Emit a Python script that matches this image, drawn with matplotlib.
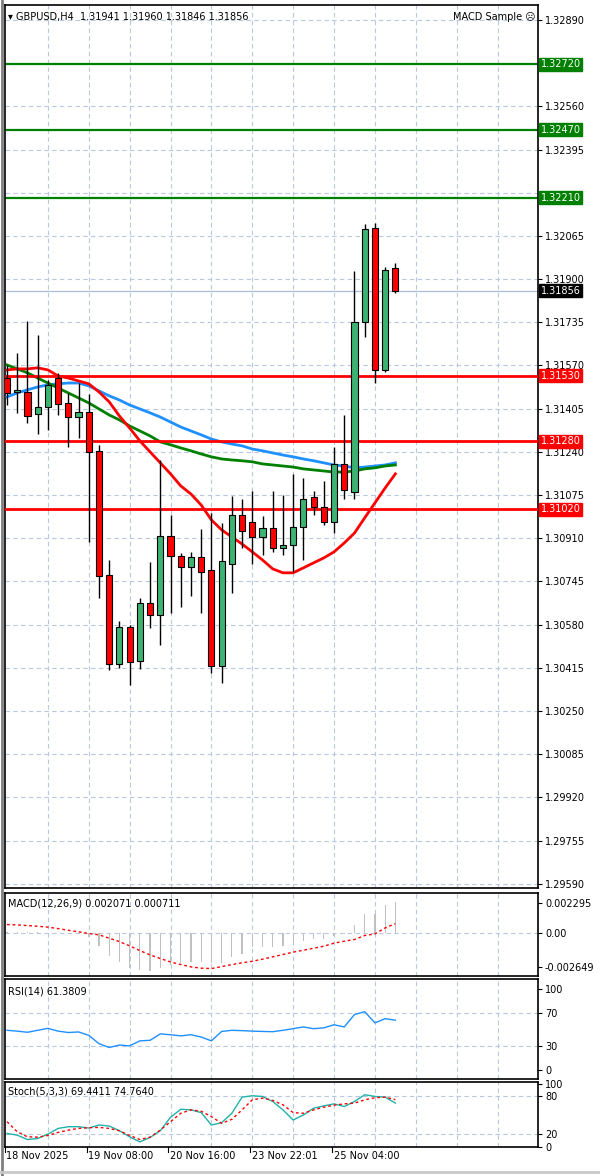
import matplotlib
matplotlib.use("Agg")
import matplotlib.pyplot as plt
from matplotlib.patches import Rectangle
import numpy as np

opens = [1.31522, 1.31469, 1.31469, 1.31385, 1.31412, 1.31522, 1.31427, 1.31373, 1.31393, 1.31244,
         1.30770, 1.30430, 1.30571, 1.30441, 1.30663, 1.30617, 1.30919, 1.30843, 1.30800, 1.30839,
         1.30789, 1.30422, 1.30812, 1.30999, 1.30972, 1.30915, 1.30949, 1.30873, 1.30885, 1.30953,
         1.31068, 1.31030, 1.30972, 1.31194, 1.31087, 1.31736, 1.32095, 1.31553, 1.31941]
highs = [1.31572, 1.31618, 1.31740, 1.31687, 1.31515, 1.31542, 1.31465, 1.31503, 1.31461, 1.31267,
         1.30827, 1.30594, 1.30579, 1.30682, 1.30820, 1.31209, 1.30999, 1.30854, 1.30858, 1.30946,
         1.31007, 1.30969, 1.31072, 1.31060, 1.31091, 1.30995, 1.31091, 1.31076, 1.31156, 1.31140,
         1.31091, 1.31129, 1.31259, 1.31381, 1.31931, 1.32111, 1.32115, 1.31946, 1.31960]
lows = [1.31419, 1.31389, 1.31351, 1.31309, 1.31324, 1.31381, 1.31259, 1.31293, 1.30896, 1.30682,
        1.30407, 1.30415, 1.30350, 1.30411, 1.30567, 1.30503, 1.30625, 1.30648, 1.30690, 1.30625,
        1.30396, 1.30357, 1.30701, 1.30873, 1.30812, 1.30846, 1.30858, 1.30846, 1.30781, 1.30827,
        1.30999, 1.30961, 1.30930, 1.31060, 1.31060, 1.31679, 1.31503, 1.31545, 1.31846]
closes = [1.31465, 1.31477, 1.31377, 1.31412, 1.31496, 1.31423, 1.31373, 1.31393, 1.31240, 1.30766,
          1.30430, 1.30571, 1.30438, 1.30663, 1.30617, 1.30919, 1.30843, 1.30800, 1.30839, 1.30781,
          1.30422, 1.30823, 1.30999, 1.30938, 1.30915, 1.30949, 1.30873, 1.30885, 1.30953, 1.31060,
          1.31030, 1.30972, 1.31194, 1.31095, 1.31736, 1.32092, 1.31553, 1.31935, 1.31856]

ma_blue = [1.31450, 1.31465, 1.31477, 1.31488, 1.31496, 1.31500, 1.31503, 1.31503, 1.31492, 1.31473,
           1.31454, 1.31438, 1.31419, 1.31404, 1.31389, 1.31373, 1.31354, 1.31335, 1.31320, 1.31305,
           1.31289, 1.31278, 1.31270, 1.31263, 1.31251, 1.31244, 1.31236, 1.31228, 1.31221, 1.31213,
           1.31206, 1.31198, 1.31190, 1.31186, 1.31179, 1.31182, 1.31186, 1.31190, 1.31198]
ma_green = [1.31572, 1.31557, 1.31542, 1.31522, 1.31503, 1.31484, 1.31465, 1.31446, 1.31427, 1.31404,
            1.31381, 1.31362, 1.31339, 1.31320, 1.31301, 1.31278, 1.31267, 1.31255, 1.31244, 1.31232,
            1.31221, 1.31213, 1.31209, 1.31206, 1.31202, 1.31194, 1.31190, 1.31186, 1.31182, 1.31175,
            1.31171, 1.31167, 1.31163, 1.31163, 1.31167, 1.31175, 1.31179, 1.31186, 1.31190]
ma_red = [1.31553, 1.31557, 1.31557, 1.31561, 1.31553, 1.31530, 1.31522, 1.31511, 1.31500, 1.31469,
          1.31431, 1.31377, 1.31331, 1.31282, 1.31240, 1.31198, 1.31156, 1.31110, 1.31079, 1.31037,
          1.30980, 1.30942, 1.30915, 1.30888, 1.30858, 1.30827, 1.30793, 1.30778, 1.30778, 1.30797,
          1.30816, 1.30835, 1.30858, 1.30892, 1.30930, 1.30988, 1.31045, 1.31102, 1.31156]

green_levels = [1.32720, 1.32470, 1.32210]
red_levels = [1.31530, 1.31280, 1.31020]
last_price = 1.31856

price_ticks = [1.32890, 1.32560, 1.32395, 1.32065, 1.31900, 1.31735, 1.31570, 1.31405, 1.31240,
               1.31075, 1.30910, 1.30745, 1.30580, 1.30415, 1.30250, 1.30085, 1.29920, 1.29755, 1.29590]
grid_levels = [1.32890, 1.32725, 1.32560, 1.32395, 1.32230, 1.32065, 1.31900, 1.31735, 1.31570,
               1.31405, 1.31240, 1.31075, 1.30910, 1.30745, 1.30580, 1.30415, 1.30250, 1.30085,
               1.29920, 1.29755, 1.29590]

macd_hist = [0.00004, 0.00004, 0.00003, 0.00003, 0.00002, 0.00001, 0.0, -0.00005, -0.00030, -0.00098,
             -0.00179, -0.00221, -0.00270, -0.00282, -0.00294, -0.00270, -0.00245, -0.00233, -0.00221, -0.00221,
             -0.00233, -0.00228, -0.00184, -0.00159, -0.00110, -0.00110, -0.00110, -0.00098, -0.00086, -0.00066,
             -0.00049, -0.00049, -0.00025, -0.00012, 0.00061, 0.00147, 0.00147, 0.00213, 0.00240]
macd_signal = [0.00064, 0.00061, 0.00056, 0.00051, 0.00044, 0.00033, 0.00020, 0.00008, -0.00005, -0.00015,
               -0.00041, -0.00067, -0.00100, -0.00136, -0.00169, -0.00197, -0.00223, -0.00243, -0.00261, -0.00271,
               -0.00274, -0.00259, -0.00243, -0.00230, -0.00218, -0.00202, -0.00184, -0.00166, -0.00148, -0.00133,
               -0.00118, -0.00102, -0.00079, -0.00064, -0.00051, -0.00020, -0.00008, 0.00038, 0.00071]

rsi = [49.0, 48.0, 46.6, 49.0, 51.4, 48.0, 46.3, 47.0, 42.9, 32.7,
       28.0, 31.0, 30.0, 36.1, 36.8, 44.6, 43.6, 42.2, 43.6, 40.8,
       36.1, 47.6, 49.0, 48.6, 48.0, 47.6, 47.3, 49.0, 51.0, 53.1,
       51.0, 52.0, 55.8, 53.1, 68.3, 71.7, 58.1, 63.2, 61.4]

stoch_main = [21.1, 18.4, 11.4, 13.0, 20.0, 29.1, 31.8, 31.8, 29.7, 34.5,
              32.9, 25.4, 15.7, 7.7, 14.7, 25.4, 46.8, 59.6, 58.6, 54.3,
              34.5, 38.2, 53.2, 78.9, 81.1, 80.0, 72.0, 58.6, 42.5, 50.5,
              61.3, 65.0, 68.2, 63.9, 72.0, 82.7, 80.0, 78.9, 69.4]
stoch_signal = [39.8, 23.8, 15.7, 15.2, 17.9, 22.7, 26.4, 29.1, 30.2, 30.7,
                29.1, 25.4, 17.9, 11.4, 15.2, 26.4, 39.8, 53.2, 58.6, 56.4,
                47.9, 37.2, 43.6, 58.6, 74.6, 77.3, 73.6, 66.6, 54.3, 53.2,
                58.6, 62.9, 66.1, 68.2, 69.3, 74.6, 77.9, 78.9, 74.8]

date_labels = ["18 Nov 2025", "19 Nov 08:00", "20 Nov 16:00", "23 Nov 22:01", "25 Nov 04:00"]
date_index = [0, 8, 16, 24, 32]

# ── Estilo ──────────────────────────────────────────────────────────────────

GRID = "#B8C8DE"
FS = 7
W, H = 600, 1176
XL, XR = 5, 538
X0, DX = 7, 10.22

fig = plt.figure(figsize=(W / 100, H / 100), dpi=100, facecolor="white")
plt.rcParams["font.family"] = ["DejaVu Sans"]


def make_axes(top, bottom):
    ax = fig.add_axes([XL / W, 1 - bottom / H, (XR - XL) / W, (bottom - top) / H])
    ax.set_xlim((XL - X0) / DX, (XR - X0) / DX)
    ax.set_facecolor("white")
    for sp in ax.spines.values():
        sp.set_color("black")
        sp.set_linewidth(1.2)
    ax.set_xticks([])
    ax.yaxis.tick_right()
    ax.tick_params(axis="y", length=3, labelsize=FS, pad=2, width=0.8)
    for k in range(4, 52, 4):
        ax.axvline(k, color=GRID, lw=0.8, ls=(0, (4, 3)), zorder=0)
    return ax


n = len(opens)
idx = np.arange(n)

# ── Panel principal ─────────────────────────────────────────────────────────
ax = make_axes(5, 888)
ax.set_ylim(1.29574, 1.32947)
for g in grid_levels:
    ax.axhline(g, color=GRID, lw=0.8, ls=(0, (4, 3)), zorder=0)
ax.set_yticks(price_ticks)
ax.set_yticklabels([f"{p:.5f}" for p in price_ticks])

ax.axhline(last_price, color="#A9BCD8", lw=0.9, zorder=1)
for lv in green_levels:
    ax.axhline(lv, color="#008000", lw=1.6, zorder=2)
for lv in red_levels:
    ax.axhline(lv, color="#FF0000", lw=2.0, zorder=4)

ax.plot(idx, ma_blue, color="#1E90FF", lw=2, zorder=3)
ax.plot(idx, ma_green, color="#008000", lw=2, zorder=3)
ax.plot(idx, ma_red, color="#FF0000", lw=2, zorder=3)

for i in range(n):
    o, h, l, c = opens[i], highs[i], lows[i], closes[i]
    col = "#3CB371" if c >= o else "#FF0000"
    ax.vlines(i, l, h, color="black", lw=1, zorder=5)
    ax.add_patch(Rectangle((i - 0.3, min(o, c)), 0.6, max(abs(c - o), 0.00003),
                           facecolor=col, edgecolor="black", lw=0.8, zorder=6))

tr = ax.get_yaxis_transform()
for lv in green_levels:
    ax.text(1.005, lv, f"{lv:.5f}", transform=tr, fontsize=FS, color="white", va="center", ha="left",
            bbox=dict(boxstyle="square,pad=0.15", fc="#008000", ec="#008000"), zorder=10, clip_on=False)
for lv in red_levels:
    ax.text(1.005, lv, f"{lv:.5f}", transform=tr, fontsize=FS, color="white", va="center", ha="left",
            bbox=dict(boxstyle="square,pad=0.15", fc="#FF0000", ec="#FF0000"), zorder=10, clip_on=False)
ax.text(1.005, last_price, f"{last_price:.5f}", transform=tr, fontsize=FS, color="white", va="center",
        ha="left", bbox=dict(boxstyle="square,pad=0.15", fc="black", ec="black"), zorder=10, clip_on=False)

ax.text(0.005, 0.992, "▾ GBPUSD,H4  1.31941 1.31960 1.31846 1.31856", transform=ax.transAxes,
        fontsize=FS, va="top", ha="left", color="black")
ax.text(0.995, 0.992, "MACD Sample ☹", transform=ax.transAxes, fontsize=FS, va="top", ha="right",
        color="black", family=["DejaVu Sans"])

# ── MACD ────────────────────────────────────────────────────────────────────
am = make_axes(893, 976)
am.set_ylim(-0.00331, 0.00306)
am.axhline(0, color=GRID, lw=0.8, ls=(0, (4, 3)), zorder=0)
am.bar(idx, macd_hist, width=0.12, color="#C0C0C0", zorder=2)
am.plot(idx, macd_signal, color="#FF0000", lw=1, ls=(0, (2, 2)), zorder=3)
am.set_yticks([0.002295, 0.0, -0.002649])
am.set_yticklabels(["0.002295", "0.00", "-0.002649"])
am.text(0.005, 0.93, "MACD(12,26,9) 0.002071 0.000711", transform=am.transAxes, fontsize=FS, va="top")

# ── RSI ─────────────────────────────────────────────────────────────────────
ar = make_axes(979, 1079)
ar.set_ylim(-10.5, 111.7)
for g in [70, 30]:
    ar.axhline(g, color=GRID, lw=0.8, ls=(0, (4, 3)), zorder=0)
ar.plot(idx, rsi, color="#1E90FF", lw=1, zorder=3)
ar.set_yticks([100, 70, 30, 0])
ar.text(0.005, 0.93, "RSI(14) 61.3809", transform=ar.transAxes, fontsize=FS, va="top")

# ── Estocástico ─────────────────────────────────────────────────────────────
ast = make_axes(1082, 1147)
ast.set_ylim(-0.5, 103)
for g in [80, 20]:
    ast.axhline(g, color=GRID, lw=0.8, ls=(0, (4, 3)), zorder=0)
ast.plot(idx, stoch_main, color="#20B2AA", lw=1, zorder=3)
ast.plot(idx, stoch_signal, color="#FF0000", lw=1, ls=(0, (2, 2)), zorder=3)
ast.set_yticks([100, 80, 20, 0])
ast.set_yticklabels(["100", "80", "20", "0"])
ast.text(0.005, 0.93, "Stoch(5,3,3) 69.4411 74.7640", transform=ast.transAxes, fontsize=FS, va="top")

for k, lab in zip(date_index, date_labels):
    ast.text(k - 0.05, -15, lab, fontsize=FS, va="center", ha="left", clip_on=False)
    ast.plot([k - 0.2, k - 0.2], [-0.5, -8], color="black", lw=0.8, clip_on=False)

# borde gris izquierdo e inferior
fig.add_artist(plt.Line2D([2 / W, 2 / W], [0, 1], color="#808080", lw=2))
fig.add_artist(plt.Line2D([0, 1], [4 / H, 4 / H], color="#C8C8C8", lw=2))

fig.savefig("out.png", dpi=100, facecolor="white")
